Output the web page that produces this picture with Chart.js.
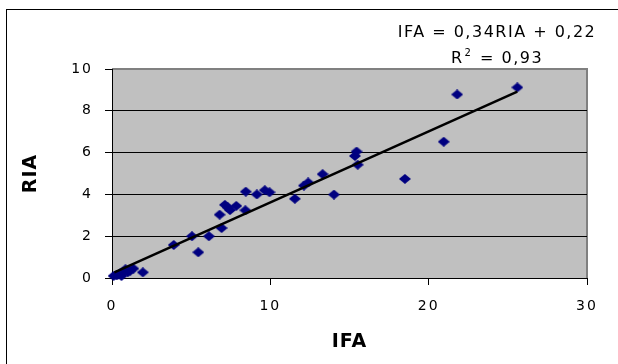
<!DOCTYPE html>
<html>
<head>
<meta charset="utf-8">
<script src="https://cdn.jsdelivr.net/npm/chart.js@4.4.1/dist/chart.umd.min.js"></script>
<style>
html, body { margin: 0; padding: 0; background: #fff; }
</style>
</head>
<body>
<canvas id="scatter_chart" width="618" height="364"></canvas>
<script>
// IFA on the x axis, RIA on the y axis
const ifa_values = [0.1, 0.3, 0.45, 0.6, 0.7, 0.85, 1.0, 1.15, 1.35, 1.95,
	3.9, 5.05, 5.45, 6.12, 6.8, 6.92, 7.13, 7.3, 7.45, 7.85,
	8.42, 8.45, 9.15, 9.65, 9.95, 11.55, 12.12, 12.39, 13.3, 14.02,
	15.34, 15.45, 15.52, 18.5, 20.95, 21.8, 25.6];
const ria_values = [0.1, 0.12, 0.18, 0.1, 0.3, 0.42, 0.28, 0.35, 0.45, 0.27,
	1.58, 2.0, 1.23, 2.0, 3.03, 2.39, 3.5, 3.38, 3.25, 3.45,
	3.24, 4.13, 4.0, 4.2, 4.1, 3.79, 4.42, 4.57, 4.97, 3.99,
	5.84, 6.05, 5.42, 4.74, 6.52, 8.78, 9.12];

// trend line end points
const trend_ifa = [0.15, 25.6];
const trend_ria = [0.27, 8.92];

const x_ticks = [0, 10, 20, 30];
const y_ticks = [0, 2, 4, 6, 8, 10];

const equation_text = "IFA = 0,34RIA + 0,22";
const r2_value = "0,93";

const FONT = '"DejaVu Sans", "Liberation Sans", sans-serif';

// flat navy diamond like the Excel marker
const diamond = document.createElement("canvas");
diamond.width = 12;
diamond.height = 10;
const dctx = diamond.getContext("2d");
dctx.fillStyle = "#000080";
dctx.beginPath();
dctx.moveTo(6, 0);
dctx.lineTo(12, 5);
dctx.lineTo(6, 10);
dctx.lineTo(0, 5);
dctx.closePath();
dctx.fill();

const points = ifa_values.map((x, i) => ({ x: x, y: ria_values[i] }));
const trend = trend_ifa.map((x, i) => ({ x: x, y: trend_ria[i] }));

// titles are drawn with the grid layer, tick labels in a later layer (ticks.z = 1)
const spacing = {
	id: "spacing",
	beforeLayout(c) { c.ctx.letterSpacing = "2px"; },
	beforeDraw(c) { c.ctx.letterSpacing = "1px"; },
	afterDatasetsDraw(c) { c.ctx.letterSpacing = "2px"; }
};

const background = {
	id: "background",
	beforeDraw(c) {
		const ctx = c.ctx, a = c.chartArea;
		ctx.save();
		ctx.fillStyle = "#fff";
		ctx.fillRect(0, 0, c.width, c.height);
		ctx.strokeStyle = "#000";
		ctx.lineWidth = 1;
		ctx.strokeRect(6.5, 9.5, 700, 700);
		ctx.fillStyle = "#c0c0c0";
		ctx.fillRect(a.left, a.top, a.right - a.left, a.bottom - a.top);
		ctx.strokeStyle = "#808080";
		ctx.lineWidth = 2;
		ctx.beginPath();
		ctx.moveTo(a.left, a.top);
		ctx.lineTo(a.right, a.top);
		ctx.lineTo(a.right, a.bottom);
		ctx.stroke();
		ctx.restore();
	}
};

const equation = {
	id: "equation",
	afterDraw(c) {
		const ctx = c.ctx;
		const cx = 497;
		ctx.save();
		ctx.letterSpacing = "1.5px";
		ctx.fillStyle = "#000";
		ctx.textBaseline = "alphabetic";
		ctx.textAlign = "center";
		ctx.font = "16px " + FONT;
		ctx.fillText(equation_text, cx, 37);

		// R² line, superscript drawn smaller and raised
		ctx.textAlign = "left";
		const partA = "R";
		const partB = "2";
		const partC = " = " + r2_value;
		ctx.font = "16px " + FONT;
		const wA = ctx.measureText(partA).width;
		const wC = ctx.measureText(partC).width;
		ctx.font = "10px " + FONT;
		const wB = ctx.measureText(partB).width + 2;
		let x = cx - (wA + wB + wC) / 2;
		ctx.font = "16px " + FONT;
		ctx.fillText(partA, x, 63);
		ctx.font = "10px " + FONT;
		ctx.fillText(partB, x + wA + 1, 56);
		ctx.font = "16px " + FONT;
		ctx.fillText(partC, x + wA + wB, 63);
		ctx.restore();
	}
};

new Chart(document.getElementById("scatter_chart").getContext("2d"), {
	type: "scatter",
	data: {
		datasets: [
			{
				label: "trend",
				type: "line",
				data: trend,
				borderColor: "#000",
				borderWidth: 2.5,
				pointRadius: 0,
				fill: false,
				order: 0
			},
			{
				label: "RIA",
				data: points,
				pointStyle: diamond,
				pointRadius: 6,
				clip: false,
				order: 1
			}
		]
	},
	options: {
		responsive: false,
		animation: false,
		layout: { padding: { top: 69, right: 31, bottom: 0, left: 0 } },
		plugins: {
			legend: { display: false },
			tooltip: { enabled: false }
		},
		scales: {
			x: {
				type: "linear",
				min: 0,
				max: 30,
				afterBuildTicks: s => { s.ticks = x_ticks.map(v => ({ value: v })); },
				afterFit: s => { s.height = 86; },
				grid: { drawOnChartArea: false, drawTicks: true, tickLength: 7, tickColor: "#000" },
				border: { color: "#000", width: 1 },
				ticks: { z: 1, color: "#000", padding: 13, font: { family: FONT, size: 14 } },
				title: {
					display: true,
					text: "IFA",
					color: "#000",
					font: { family: FONT, size: 19, weight: "bold" },
					padding: { top: 12, bottom: 11 }
				}
			},
			y: {
				type: "linear",
				min: 0,
				max: 10,
				afterBuildTicks: s => { s.ticks = y_ticks.map(v => ({ value: v })); },
				afterFit: s => { s.width = 112; },
				grid: {
					color: ctx => (ctx.tick && (ctx.tick.value === 0 || ctx.tick.value === 10)) ? "rgba(0,0,0,0)" : "#000",
					lineWidth: 1,
					tickLength: 7,
					tickColor: "#000"
				},
				border: { color: "#000", width: 1 },
				ticks: { z: 1, color: "#000", padding: 12, font: { family: FONT, size: 14 } },
				title: {
					display: true,
					text: "RIA",
					color: "#000",
					font: { family: FONT, size: 19, weight: "bold" },
					padding: { top: 20, bottom: 20 }
				}
			}
		}
	},
	plugins: [spacing, background, equation]
});
</script>
</body>
</html>
